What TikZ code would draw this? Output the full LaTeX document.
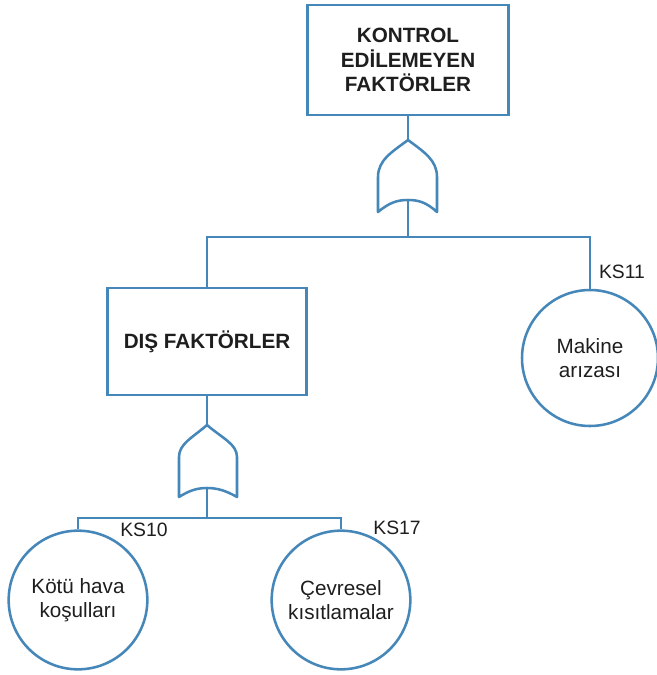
\documentclass[tikz,border=0pt]{standalone}
\usepackage{fontspec}
\setmainfont{Liberation Sans}
\begin{document}
\definecolor{treeblue}{RGB}{70,135,185}
\definecolor{inkgrey}{RGB}{30,30,30}
\begin{tikzpicture}[x=0.75pt,y=-0.75pt,
  line/.style={draw=treeblue,line width=1.9pt},
  eventbox/.style={line,rectangle,fill=white,align=center,text=inkgrey,
    font=\fontsize{15.5}{18.5}\selectfont\bfseries,inner sep=0pt},
  basic/.style={line,circle,fill=white,align=center,text=inkgrey,
    font=\fontsize{15.5}{18}\selectfont,inner sep=0pt},
  code/.style={text=inkgrey,font=\fontsize{14.5}{16}\selectfont,inner sep=0pt}]
\useasboundingbox (0,0) rectangle (657,675);

% events (sizes in pt: 1 unit = 0.75pt)
\node[eventbox,minimum width=150.75pt,minimum height=82.5pt] (top) at (408,60)
  {KONTROL\\EDİLEMEYEN\\FAKTÖRLER};
\node[eventbox,minimum width=149.25pt,minimum height=80.25pt] (dis) at (207,341.5)
  {DIŞ FAKTÖRLER};
\node[basic,minimum size=102pt] (mak) at (590,358) {Makine\\arızası};
\node[basic,minimum size=104pt] (kotu) at (78,600) {Kötü hava\\koşulları};
\node[basic,minimum size=104pt] (cev) at (341,600) {Çevresel\\kısıtlamalar};

% basic event codes
\node[code] (ks11) at (622,272) {KS11};
\node[code] (ks10) at (144,530) {KS10};
\node[code] (ks17) at (397,528) {KS17};

% OR gates: apex, notch and bus points
\coordinate (g1apex) at (408,140);
\coordinate (g1notch) at (408,200);
\coordinate (g2apex) at (207,425);
\coordinate (g2notch) at (207,488);
\coordinate (bus1) at (408,237);
\coordinate (bus2) at (207,518);

\draw[line,line join=round]
  (g1apex) .. controls (392,152) and (378,160) .. (378,177) -- (378,212)
  .. controls (390,202) and (398,200) .. (g1notch)
  .. controls (418,200) and (426,202) .. (437,212) -- (437,177)
  .. controls (437,160) and (424,152) .. (g1apex) -- cycle;
\draw[line,line join=round]
  (g2apex) .. controls (192,438) and (179,444) .. (179,457) -- (179,497)
  .. controls (190,490) and (198,488) .. (g2notch)
  .. controls (216,488) and (225,490) .. (237,497) -- (237,457)
  .. controls (237,444) and (222,438) .. (g2apex) -- cycle;

% connectors
\draw[line] (top.south) -- (g1apex);
\draw[line] (g1notch) -- (bus1);
\draw[line] (dis.north) |- (bus1) -| (mak.north);
\draw[line] (dis.south) -- (g2apex);
\draw[line] (g2notch) -- (bus2);
\draw[line] (kotu.north) |- (bus2) -| (cev.north);
\end{tikzpicture}
\end{document}
